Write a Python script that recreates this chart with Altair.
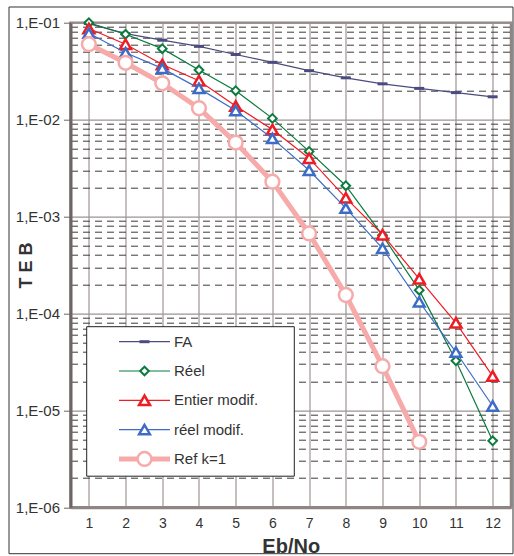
import altair as alt
import pandas as pd

# ---- data ----
eb_no = [1, 2, 3, 4, 5, 6, 7, 8, 9, 10, 11, 12]
fa = [0.098, 0.077, 0.066, 0.057, 0.047, 0.039, 0.032, 0.027, 0.0234, 0.021, 0.019, 0.0172]
reel = [0.1, 0.076, 0.054, 0.0325, 0.0199, 0.0103, 0.0047, 0.00208, 0.00064, 0.000174, 3.25e-5, 4.85e-6]
entier_modif = [0.087, 0.06, 0.037, 0.0252, 0.0138, 0.0079, 0.004, 0.00156, 0.00065, 0.000228, 8.0e-5, 2.26e-5]
reel_modif = [0.078, 0.049, 0.0338, 0.021, 0.0124, 0.0064, 0.003, 0.00122, 0.00047, 0.000132, 4.0e-5, 1.11e-5]
ref_k1 = [0.06, 0.0386, 0.0237, 0.0131, 0.0058, 0.00229, 0.00067, 0.000155, 2.86e-5, 4.74e-6]

series_names = ["FA", "Réel", "Entier modif.", "réel modif.", "Ref k=1"]
series_values = [fa, reel, entier_modif, reel_modif, ref_k1]

FONT = "Liberation Sans"
TXT = "#333333"
W, H = 440.5, 484.6

bar_path = "M-1,-0.3L1,-0.3L1,0.3L-1,0.3Z"
styles = {
    "FA": dict(color="#4b4b80", lw=1.2, shape=bar_path, size=100, sw=0, filled=True),
    "Réel": dict(color="#0b7a3e", lw=1.2, shape="diamond", size=75, sw=2, filled=False),
    "Entier modif.": dict(color="#ee1c24", lw=1.2, shape="triangle-up", size=120, sw=2.5, filled=False),
    "réel modif.": dict(color="#3d6cc6", lw=1.2, shape="triangle-up", size=115, sw=2.5, filled=False),
    "Ref k=1": dict(color="#f7aaaa", lw=5, shape="circle", size=190, sw=2.5, filled=False),
}

tick_vals = []
for e in range(-6, -1):
    for m in range(1, 10):
        tick_vals.append(m * 10.0 ** e)
tick_vals.append(0.1)

is_major = "abs(log(datum.value)/LN10 - round(log(datum.value)/LN10)) < 0.001"

x_scale = alt.Scale(domain=[0.5, 12.5], nice=False, zero=False)
y_scale = alt.Scale(type="log", domain=[1e-6, 1e-1], nice=False)

x_axis = alt.Axis(
    values=eb_no, title="Eb/No", grid=True, gridColor="#9e9494", gridWidth=1.2,
    tickSize=0, labelPadding=9, labelFontSize=14, labelFont=FONT, labelColor=TXT,
    domainColor="#8f8585", domainWidth=3,
    titleFont=FONT, titleFontSize=20, titleFontWeight="bold", titleColor=TXT,
    titleBaseline="alphabetic", titleY=45,
)
y_axis = alt.Axis(
    values=tick_vals, title="T E B",
    labelExpr=is_major + " ? '1,E-0' + (-round(log(datum.value)/LN10)) : ''",
    grid=True,
    gridColor={"condition": {"test": is_major, "value": "#9e9494"}, "value": "#3a3a3a"},
    gridDash={"condition": {"test": is_major, "value": [1, 0]}, "value": [7, 5]},
    gridWidth={"condition": {"test": is_major, "value": 1.2}, "value": 1},
    tickSize={"condition": {"test": is_major, "value": 7}, "value": 0},
    tickColor="#6d6565",
    labelPadding=4, labelFontSize=15, labelFont=FONT, labelColor=TXT,
    domainColor="#6d6565", domainWidth=3,
    titleFont=FONT, titleFontSize=18, titleFontWeight="bold", titleColor=TXT,
    titleAngle=270, titleX=-44, titleBaseline="middle",
)

X = alt.X("x:Q", scale=x_scale, axis=x_axis)
Y = alt.Y("y:Q", scale=y_scale, axis=y_axis)

layers = []

for name, vals in zip(series_names, series_values):
    st = styles[name]
    df = pd.DataFrame({"x": eb_no[: len(vals)], "y": vals, "s": name})
    line = alt.Chart(df).mark_line(color=st["color"], strokeWidth=st["lw"]).encode(x=X, y=Y)
    if st["filled"]:
        pts = alt.Chart(df).mark_point(
            shape=st["shape"], size=st["size"], filled=True, color=st["color"], opacity=1
        ).encode(x=X, y=Y)
    else:
        pts = alt.Chart(df).mark_point(
            shape=st["shape"], size=st["size"], filled=False, fill="white", fillOpacity=1,
            stroke=st["color"], strokeWidth=st["sw"], opacity=1
        ).encode(x=X, y=Y)
    layers += [line, pts]

one = pd.DataFrame({"k": [0]})
# outer frame of the whole figure
frame = alt.Chart(one).mark_rect(
    filled=False, stroke="#333333", strokeWidth=1
).encode(x=alt.value(-61.5), x2=alt.value(442.5), y=alt.value(-15.7), y2=alt.value(531))
layers.append(frame)

# legend (manual, to show line + marker samples)
box = alt.Chart(one).mark_rect(fill="white", stroke="#222222", strokeWidth=1).encode(
    x=alt.value(16.2), x2=alt.value(223.8), y=alt.value(304), y2=alt.value(453.5)
)
layers.append(box)
row0, dy = 319, 29.3
for i, name in enumerate(series_names):
    st = styles[name]
    yy = row0 + i * dy
    ldf = pd.DataFrame({"label": [name]})
    layers.append(
        alt.Chart(ldf).mark_rule(color=st["color"], strokeWidth=st["lw"]).encode(
            x=alt.value(48.5), x2=alt.value(99.5), y=alt.value(yy)
        )
    )
    if st["filled"]:
        mk = alt.Chart(ldf).mark_point(
            shape=st["shape"], size=st["size"], filled=True, color=st["color"], opacity=1
        )
    else:
        mk = alt.Chart(ldf).mark_point(
            shape=st["shape"], size=st["size"], filled=False, fill="white", fillOpacity=1,
            stroke=st["color"], strokeWidth=st["sw"], opacity=1
        )
    layers.append(mk.encode(x=alt.value(74), y=alt.value(yy)))
    layers.append(
        alt.Chart(ldf).mark_text(
            align="left", baseline="middle", font=FONT, fontSize=15, color=TXT
        ).encode(x=alt.value(103.5), y=alt.value(yy), text="label:N")
    )

chart = alt.layer(*layers).properties(
    width=W, height=H,
    autosize=alt.AutoSizeParams(type="none"),
    padding={"left": 70.5, "top": 22.7, "right": 3, "bottom": 48.7},
    background="white",
).configure_view(stroke="#8f8585", strokeWidth=2.5)

chart.save("out.html", embed_options={"renderer": "svg", "actions": False})
